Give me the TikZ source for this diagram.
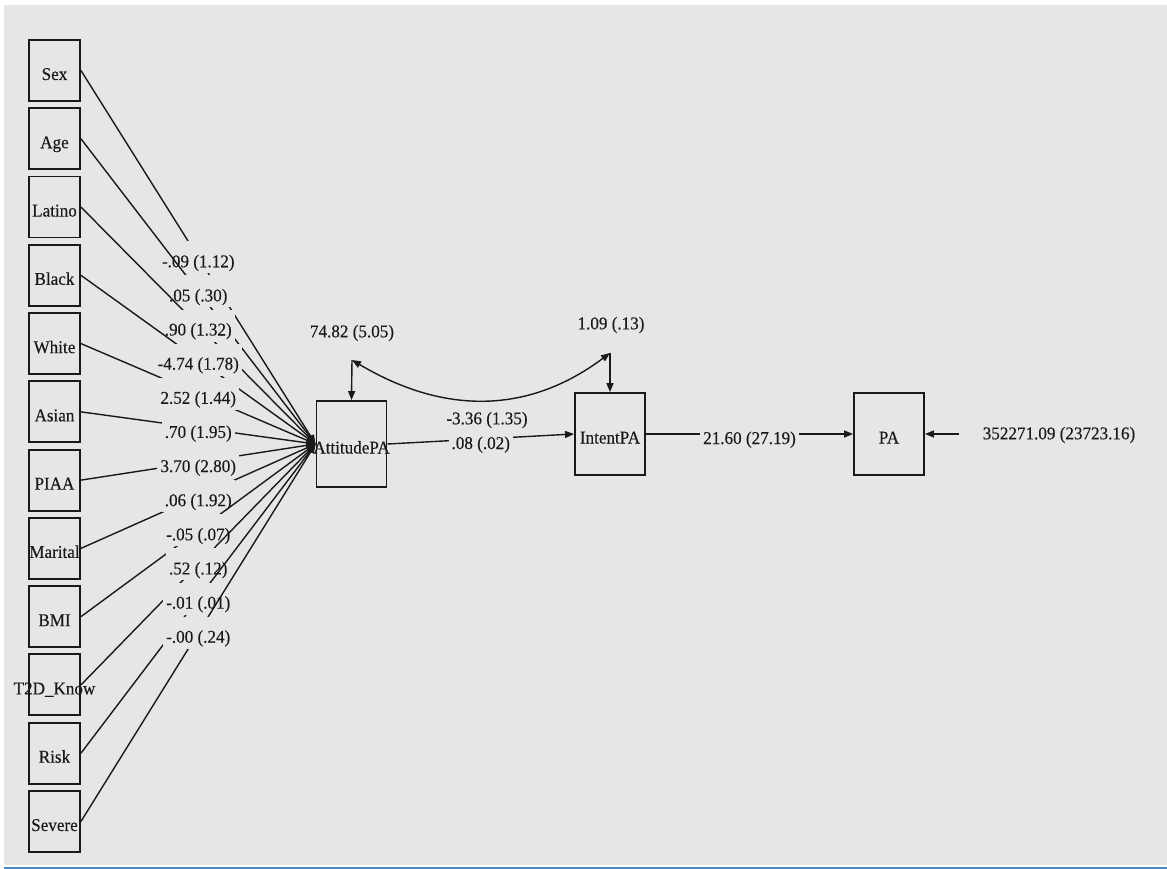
\documentclass[tikz,border=0pt]{standalone}
\usepackage{fontspec}
\setmainfont{Liberation Serif}[FakeStretch=0.95,FakeBold=0.25]
\usetikzlibrary{arrows.meta}
\definecolor{bgc}{HTML}{E6E6E6}
\definecolor{blueline}{HTML}{4A86C8}
\tikzset{
  every node/.style={font=\fontsize{18pt}{20pt}\selectfont, text=black!90},
  varbox/.style={draw=black!90, line width=1.9pt, inner sep=0pt, text height=19pt, text depth=0pt},
  leftbox/.style={varbox, minimum width=51pt, minimum height=61pt},
  bigbox/.style={varbox, minimum width=70pt, minimum height=82pt},
  conn/.style={draw=black!90, line width=1.4pt},
  arr/.style={conn, -{Triangle[length=9pt,width=7pt]}},
  lbl/.style={fill=bgc, inner xsep=3pt, inner ysep=0pt, minimum height=32pt, text height=20pt, text depth=0pt},
}
\begin{document}
\begin{tikzpicture}[x=1pt,y=-1pt]
\useasboundingbox (0,0) rectangle (1167,869);
\fill[bgc] (4,5) rectangle (1167,865);
\draw[blueline, line width=2pt] (4,868) -- (1167,868);

% left boxes
\foreach \nm/\tx [count=\i from 0] in {sex/Sex, age/Age, latino/Latino, black/Black, white/White, asian/Asian, piaa/PIAA, marital/Marital, bmi/BMI, t2d/T2D\_Know, risk/Risk, severe/Severe}{
  \node[leftbox] (\nm) at (54.5, 70.5+68.27*\i) {\makebox[0pt]{\tx}};
}

% main boxes
\node[varbox, minimum width=70pt, minimum height=86pt] (att) at (351.5,444) {\makebox[0pt]{AttitudePA}};
\node[bigbox] (intent) at (610,434) {\makebox[0pt]{IntentPA}};
\node[bigbox] (pa) at (889,434) {\makebox[0pt]{PA}};

% predictor paths (each drawn with its label in order)
\draw[arr] (sex.east) -- node[lbl] {-.09 (1.12)} (att.west);
\draw[arr] (age.east) -- node[lbl] {.05 (.30)} (att.west);
\draw[arr] (latino.east) -- node[lbl] {.90 (1.32)} (att.west);
\draw[arr] (black.east) -- node[lbl] {-4.74 (1.78)} (att.west);
\draw[arr] (white.east) -- node[lbl] {2.52 (1.44)} (att.west);
\draw[arr] (asian.east) -- node[lbl] {.70 (1.95)} (att.west);
\draw[arr] (piaa.east) -- node[lbl] {3.70 (2.80)} (att.west);
\draw[arr] (marital.east) -- node[lbl] {.06 (1.92)} (att.west);
\draw[arr] (bmi.east) -- node[lbl] {-.05 (.07)} (att.west);
\draw[arr] (t2d.east) -- node[lbl] {.52 (.12)} (att.west);
\draw[arr] (risk.east) -- node[lbl] {-.01 (.01)} (att.west);
\draw[arr] (severe.east) -- node[lbl] {-.00 (.24)} (att.west);

% structural paths
\draw[arr] (att.east) -- node[lbl] {.08 (.02)} (intent.west);
\draw[arr] (intent.east) -- node[lbl] {21.60 (27.19)} (pa.west);

% residual variances
\coordinate (va) at (352,360);
\coordinate (vi) at (610,353);
\node (vatxt) at (352,333) {74.82 (5.05)};
\node (vitxt) at (611,325) {1.09 (.13)};
\draw[arr] (va) -- (att.north);
\draw[arr] (vi) -- (intent.north);

% covariance
\draw[conn, {Triangle[length=9pt,width=7pt]}-{Triangle[length=9pt,width=7pt]}]
  (va) .. controls (446,416) and (530,413) .. (vi);
\node (cov) at (487,420) {-3.36 (1.35)};

% PA residual
\coordinate (vp) at (959,434);
\draw[arr] (vp) -- (pa.east);
\node (vptxt) at (1059,435) {352271.09 (23723.16)};
\end{tikzpicture}
\end{document}
